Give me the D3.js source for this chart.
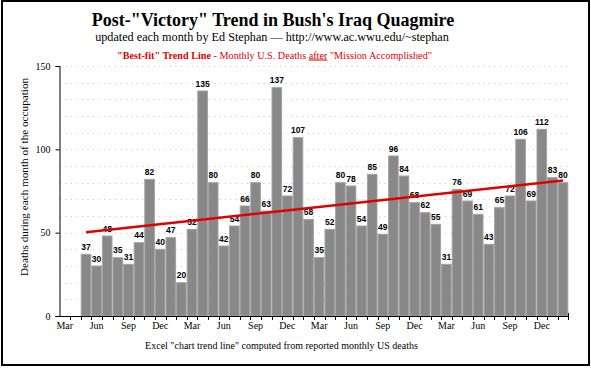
<!DOCTYPE html>
<html><head><meta charset="utf-8">
<script src="https://cdn.jsdelivr.net/npm/d3@7"></script>
<style>html,body{margin:0;padding:0;background:#fff;} svg{display:block;}</style>
</head><body>
<script>
const months = ["Mar 2003","Apr 2003","May 2003","Jun 2003","Jul 2003","Aug 2003","Sep 2003","Oct 2003","Nov 2003","Dec 2003",
"Jan 2004","Feb 2004","Mar 2004","Apr 2004","May 2004","Jun 2004","Jul 2004","Aug 2004","Sep 2004","Oct 2004","Nov 2004","Dec 2004",
"Jan 2005","Feb 2005","Mar 2005","Apr 2005","May 2005","Jun 2005","Jul 2005","Aug 2005","Sep 2005","Oct 2005","Nov 2005","Dec 2005",
"Jan 2006","Feb 2006","Mar 2006","Apr 2006","May 2006","Jun 2006","Jul 2006","Aug 2006","Sep 2006","Oct 2006","Nov 2006","Dec 2006",
"Jan 2007","Feb 2007"];
const deaths = [null,null,37,30,48,35,31,44,82,40,
47,20,52,135,80,42,54,66,80,63,137,72,
107,58,35,52,80,78,54,85,49,96,84,68,
62,55,31,76,69,61,43,65,72,106,69,112,
83,80];
const yTicks = [0,50,100,150];
const tickLabelMonths = ["Mar","Jun","Sep","Dec"];

const W=591,H=368;
const svg=d3.select("body").append("svg").attr("width",W).attr("height",H);
svg.append("rect").attr("x",2).attr("y",1).attr("width",587).attr("height",364)
  .attr("fill","#fff").attr("stroke","#000").attr("stroke-width",2);

const x=d3.scaleBand().domain(months).range([59.5,568.3]).padding(0);
const y=d3.scaleLinear().domain([0,150]).range([316,66]);

// gridlines
svg.append("g").selectAll("line").data(d3.range(10,151,10)).join("line")
  .attr("x1",60).attr("x2",568).attr("y1",d=>Math.round(y(d))+0.5).attr("y2",d=>Math.round(y(d))+0.5)
  .attr("stroke","#c4c4c4").attr("stroke-width",1).attr("stroke-dasharray","1,4.5");

const data=months.map((m,i)=>({m,i,v:deaths[i]})).filter(d=>d.v!=null);

// bars
svg.append("g").selectAll("rect").data(data).join("rect")
  .attr("x",d=>x(d.m)+0.5).attr("width",x.bandwidth()-1)
  .attr("y",d=>y(d.v)).attr("height",d=>y(0)-y(d.v))
  .attr("fill","#888888").attr("stroke","#a2a2a2").attr("stroke-width",1);

// value labels
svg.append("g").selectAll("text").data(data).join("text")
  .attr("x",d=>x(d.m)+x.bandwidth()/2).attr("y",d=>y(d.v)-4.5)
  .attr("text-anchor","middle").attr("font-family","Liberation Sans, Arial, sans-serif")
  .attr("font-size","8.5px").attr("font-weight","bold").attr("fill","#000").text(d=>d.v);

// trend line (least squares, as Excel)
const n=data.length, mx=d3.mean(data,d=>d.i), my=d3.mean(data,d=>d.v);
const slope=d3.sum(data,d=>(d.i-mx)*(d.v-my))/d3.sum(data,d=>(d.i-mx)**2);
const icpt=my-slope*mx;
const ends=[data[0],data[n-1]];
svg.append("path").datum(ends)
  .attr("d",d3.line().x(d=>x(d.m)+x.bandwidth()/2).y(d=>y(icpt+slope*d.i)))
  .attr("stroke","#e00000").attr("stroke-width",2.5).attr("fill","none");

// x axis
const xAxis=d3.axisBottom(x).tickSize(0).tickFormat(d=>{const mo=d.slice(0,3);return tickLabelMonths.includes(mo)?mo:"";});
const gx=svg.append("g").attr("transform","translate(0,316)").call(xAxis);
gx.select(".domain").remove();
gx.selectAll("text").attr("font-family","Liberation Serif, Times New Roman, serif").attr("font-size","10px").attr("fill","#000").attr("dy",0).attr("y",13);
svg.append("line").attr("x1",59.5).attr("x2",568.8).attr("y1",316.5).attr("y2",316.5).attr("stroke","#000");
svg.append("g").selectAll("line").data(months.slice(1)).join("line")
  .attr("x1",d=>Math.round(x(d))+0.5).attr("x2",d=>Math.round(x(d))+0.5).attr("y1",316).attr("y2",320).attr("stroke","#000");
svg.append("line").attr("x1",568.5).attr("x2",568.5).attr("y1",313).attr("y2",320).attr("stroke","#000");

// y axis
const yAxis=d3.axisLeft(y).tickValues(yTicks).tickSize(4).tickPadding(5);
const gy=svg.append("g").attr("transform","translate(59.5,0)").call(yAxis);
gy.select(".domain").attr("stroke","#000");
gy.selectAll("text").attr("font-family","Liberation Serif, Times New Roman, serif").attr("font-size","10px").attr("fill","#000");

// titles
svg.append("text").attr("x",273).attr("y",26).attr("text-anchor","middle")
  .attr("font-family","Liberation Serif, Times New Roman, serif").attr("font-weight","bold").attr("font-size","18px")
  .text('Post-"Victory" Trend in Bush\'s Iraq Quagmire');
svg.append("text").attr("x",272).attr("y",41).attr("text-anchor","middle")
  .attr("font-family","Liberation Serif, Times New Roman, serif").attr("font-size","12.2px")
  .text("updated each month by Ed Stephan \u2014 http://www.ac.wwu.edu/~stephan");
const t3=svg.append("text").attr("x",274.5).attr("y",58.5).attr("text-anchor","middle")
  .attr("font-family","Liberation Serif, Times New Roman, serif").attr("font-size","10.2px").attr("fill","#dd0000");
t3.append("tspan").attr("font-weight","bold").text('"Best-fit" Trend Line');
t3.append("tspan").text(" - Monthly U.S. Deaths ");
t3.append("tspan").attr("text-decoration","underline").text("after");
t3.append("tspan").text(' "Mission Accomplished"');

svg.append("text").attr("transform","translate(28,177) rotate(-90)").attr("text-anchor","middle")
  .attr("font-family","Liberation Serif, Times New Roman, serif").attr("font-size","11.2px")
  .text("Deaths during each month of the occupation");

svg.append("text").attr("x",281.5).attr("y",349).attr("text-anchor","middle")
  .attr("font-family","Liberation Serif, Times New Roman, serif").attr("font-size","10px")
  .text('Excel "chart trend line" computed from reported monthly US deaths');
</script>
</body></html>
